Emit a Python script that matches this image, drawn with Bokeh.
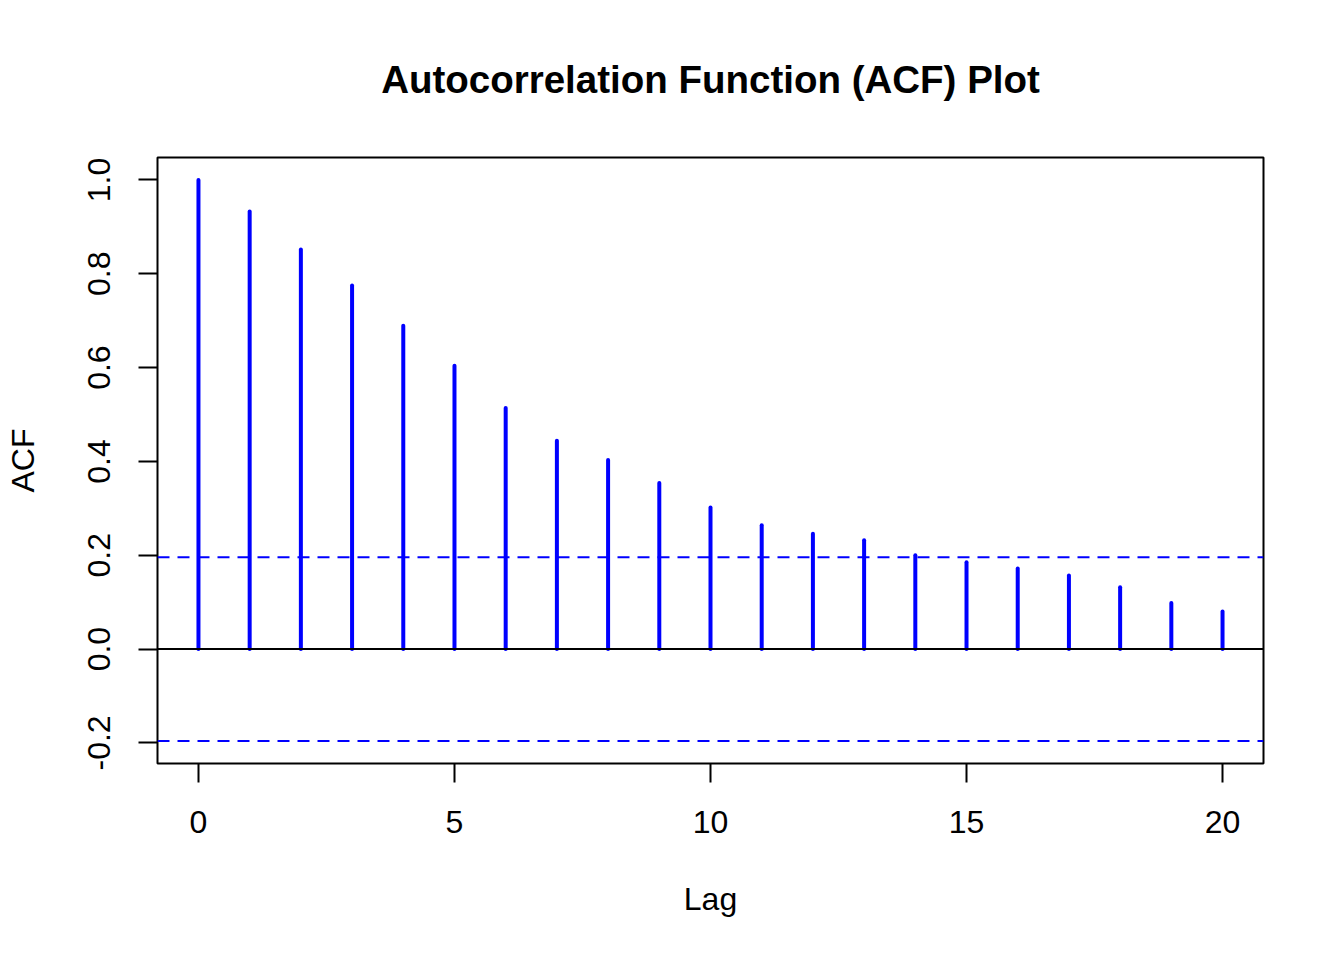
from bokeh.plotting import figure
from bokeh.models import FixedTicker, PrintfTickFormatter, Span, Range1d
from bokeh.embed import file_html
from bokeh.resources import INLINE

# ---- data ----
lags = list(range(21))
acf_values = [1.000, 0.933, 0.852, 0.775, 0.689, 0.604, 0.514, 0.444, 0.403, 0.354,
              0.302, 0.264, 0.246, 0.232, 0.200, 0.185, 0.172, 0.157, 0.132, 0.098, 0.080]
ci_bound = 0.196
x_ticks = [0, 5, 10, 15, 20]
y_ticks = [-0.2, 0.0, 0.2, 0.4, 0.6, 0.8, 1.0]
title_text = "Autocorrelation Function (ACF) Plot"
x_label = "Lag"
y_label = "ACF"

FONT = "Liberation Sans"

# R-style 4% axis expansion
x_lo, x_hi = min(lags), max(lags)
y_lo, y_hi = min(min(acf_values), -ci_bound), max(max(acf_values), ci_bound)
xpad = 0.04 * (x_hi - x_lo)
ypad = 0.04 * (y_hi - y_lo)

p = figure(width=1328, height=944, output_backend="svg", toolbar_location=None,
           x_range=Range1d(x_lo - xpad, x_hi + xpad),
           y_range=Range1d(y_lo - ypad, y_hi + ypad),
           min_border_left=157, min_border_right=65, min_border_top=157, min_border_bottom=181)

p.background_fill_color = "white"
p.border_fill_color = "white"
p.outline_line_color = "black"
p.outline_line_width = 2
p.xgrid.visible = False
p.ygrid.visible = False

xa = p.below[0]
ya = p.left[0]

# title
p.title.text = title_text
p.title.align = "center"
p.title.vertical_align = "top"
p.title.text_font = FONT
p.title.text_font_size = "38.5px"
p.title.text_font_style = "bold"
p.title.text_color = "black"
p.title.standoff = 110

# stems
p.segment(x0=lags, y0=[0] * len(lags), x1=lags, y1=acf_values,
          line_color="#0000FF", line_width=4, line_cap="round")

# zero line and confidence bounds
p.add_layout(Span(location=0, dimension="width", line_color="black", line_width=2))
for b in (ci_bound, -ci_bound):
    p.add_layout(Span(location=b, dimension="width", line_color="#0000FF",
                      line_width=2, line_dash="12 8"))

# axes
for ax in (xa, ya):
    ax.axis_line_color = None
    ax.major_tick_line_color = "black"
    ax.major_tick_line_width = 2
    ax.major_tick_in = 0
    ax.major_tick_out = 19
    ax.minor_tick_line_color = None
    ax.major_label_text_font = FONT
    ax.major_label_text_font_size = "32px"
    ax.major_label_text_color = "black"
    ax.axis_label_text_font = FONT
    ax.axis_label_text_font_size = "32px"
    ax.axis_label_text_font_style = "normal"
    ax.axis_label_text_color = "black"

xa.ticker = FixedTicker(ticks=x_ticks)
xa.formatter = PrintfTickFormatter(format="%d")
xa.major_label_standoff = 28
xa.axis_label = x_label
xa.axis_label_standoff = 45

ya.ticker = FixedTicker(ticks=y_ticks)
ya.formatter = PrintfTickFormatter(format="%.1f")
ya.major_label_orientation = "vertical"
ya.major_label_standoff = 28
ya.axis_label = y_label
ya.axis_label_standoff = 45

open("out.html", "w").write(file_html(p, INLINE))
